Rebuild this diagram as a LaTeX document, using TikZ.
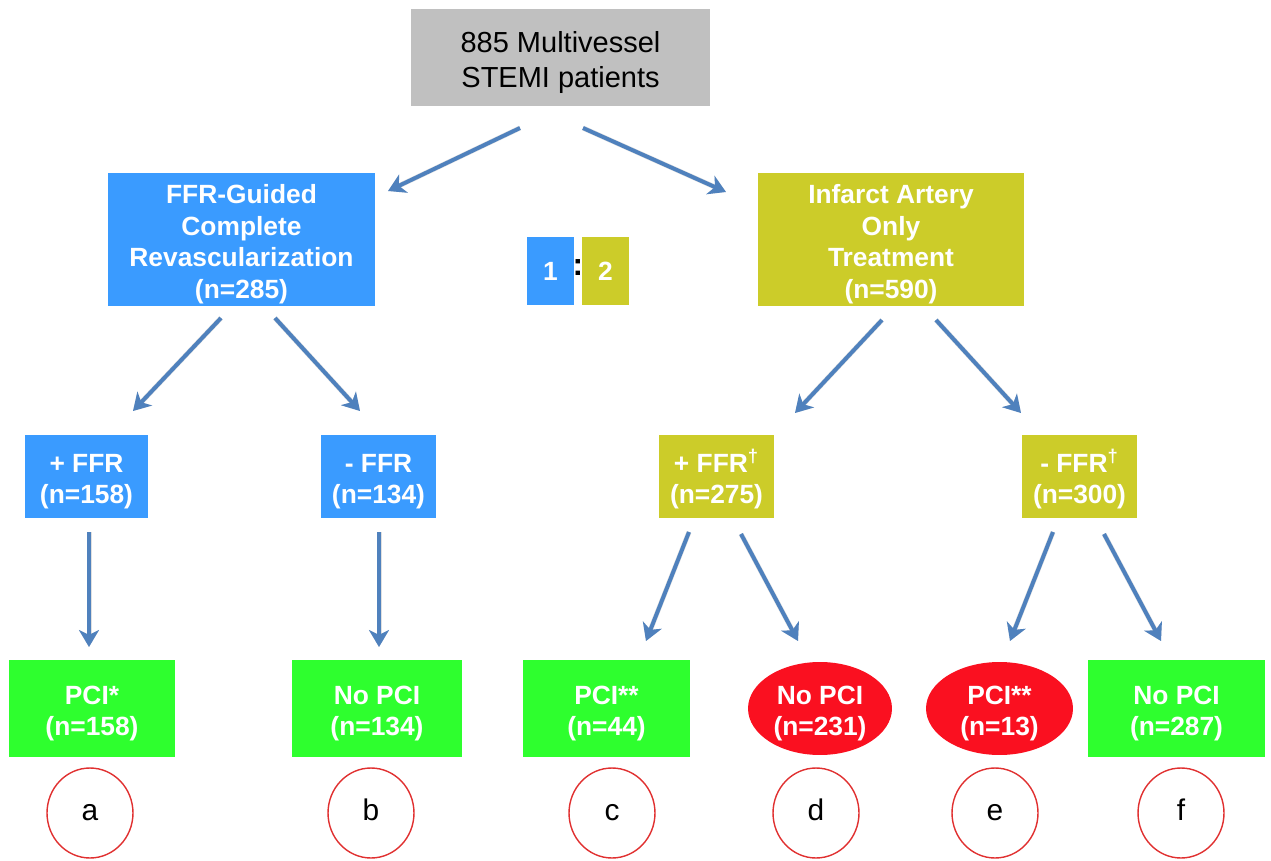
\documentclass[tikz,border=0pt]{standalone}
\usepackage{fontspec}
\setmainfont{Liberation Sans}
\usetikzlibrary{arrows.meta,shapes.geometric}
\definecolor{TopGray}{RGB}{192,192,192}
\definecolor{CrBlue}{RGB}{58,155,255}
\definecolor{IoOlive}{RGB}{204,204,41}
\definecolor{PciGreen}{RGB}{46,255,46}
\definecolor{PciRed}{RGB}{250,16,32}
\definecolor{ArrowBlue}{RGB}{79,129,189}
\definecolor{RingRed}{RGB}{224,48,48}
\newcommand{\boxlift}{\rule{0pt}{16pt}}

\begin{document}
\begin{tikzpicture}[x=0.02cm,y=-0.02cm]
	\tikzstyle{BoxStyle}=[rectangle,inner sep=0pt,align=center,text=white,
		font=\fontsize{15}{18}\selectfont\bfseries]
	\tikzstyle{OvalStyle}=[BoxStyle,ellipse,fill=PciRed,minimum height=1.86cm]
	\tikzstyle{RingStyle}=[ellipse,draw=RingRed,line width=0.8pt,text height=9pt,text depth=0pt,
		minimum width=1.72cm,minimum height=1.8cm,font=\fontsize{17}{20}\selectfont]
	\tikzstyle{EdgeStyle}=[draw=ArrowBlue,line width=0.08cm,
		-{Stealth[length=0.34cm,width=0.4cm,inset=0.1cm]}]
	\tikzstyle{ShadowStyle}=[draw=black,opacity=0.12,line width=0.1cm,
		-{Stealth[length=0.34cm,width=0.4cm,inset=0.1cm]},shift={(1.5,3)}]
	\useasboundingbox (0,0) rectangle (1271,861);
	% first split
	\node[BoxStyle,fill=TopGray,text=black,font=\fontsize{16.5}{20}\selectfont,
		minimum width=5.98cm,minimum height=1.94cm] (top) at (560.5,57.5)
		{\rule{0pt}{18pt}885 Multivessel\\STEMI patients};
	\node[BoxStyle,fill=CrBlue,minimum width=5.34cm,minimum height=2.66cm] (cr) at (241.5,239.5)
		{\boxlift FFR-Guided\\Complete\\Revascularization\\(n=285)};
	\node[BoxStyle,fill=IoOlive,minimum width=5.32cm,minimum height=2.66cm] (io) at (891,239.5)
		{\boxlift Infarct Artery\\Only\\Treatment\\(n=590)};
	\node[BoxStyle,fill=CrBlue,minimum width=0.94cm,minimum height=1.36cm] (one) at (550.5,271) {1};
	\node[BoxStyle,fill=IoOlive,minimum width=0.94cm,minimum height=1.36cm] (two) at (605.5,271) {2};
	\node[font=\fontsize{18}{20}\selectfont\bfseries,inner sep=0pt] (ratio) at (578,268) {:};
	% FFR result
	\node[BoxStyle,fill=CrBlue,minimum width=2.46cm,minimum height=1.66cm] (pf) at (86.5,476.5)
		{\boxlift + FFR\\(n=158)};
	\node[BoxStyle,fill=CrBlue,minimum width=2.3cm,minimum height=1.66cm] (nf) at (378.5,476.5)
		{\boxlift - FFR\\(n=134)};
	\node[BoxStyle,fill=IoOlive,minimum width=2.3cm,minimum height=1.66cm] (pft) at (716.5,476.5)
		{\boxlift + FFR\textsuperscript{\dag}\\(n=275)};
	\node[BoxStyle,fill=IoOlive,minimum width=2.3cm,minimum height=1.66cm] (nft) at (1079.5,476.5)
		{\boxlift - FFR\textsuperscript{\dag}\\(n=300)};
	% treatment
	\node[BoxStyle,fill=PciGreen,minimum width=3.32cm,minimum height=1.94cm] (ga) at (92,708.5)
		{\boxlift PCI*\\(n=158)};
	\node[BoxStyle,fill=PciGreen,minimum width=3.4cm,minimum height=1.94cm] (gb) at (377,708.5)
		{\boxlift No PCI\\(n=134)};
	\node[BoxStyle,fill=PciGreen,minimum width=3.34cm,minimum height=1.94cm] (gc) at (606.5,708.5)
		{\boxlift PCI**\\(n=44)};
	\node[OvalStyle,minimum width=2.88cm] (gd) at (820,708.5) {\boxlift No PCI\\(n=231)};
	\node[OvalStyle,minimum width=2.94cm] (ge) at (999.5,708.5) {\boxlift PCI**\\(n=13)};
	\node[BoxStyle,fill=PciGreen,minimum width=3.54cm,minimum height=1.94cm] (gf) at (1176.5,708.5)
		{\boxlift No PCI\\(n=287)};
	% letters
	\node[RingStyle] (la) at (90,813) {a};
	\node[RingStyle] (lb) at (371,813) {b};
	\node[RingStyle] (lc) at (612,813) {c};
	\node[RingStyle] (ld) at (816,813) {d};
	\node[RingStyle] (le) at (995,813) {e};
	\node[RingStyle] (lf) at (1181,813) {f};
	% arrow ends
	\coordinate (top-l) at (520,128);   \coordinate (cr-in) at (388,191);
	\coordinate (top-r) at (583,128);   \coordinate (io-in) at (726,192);
	\coordinate (cr-l) at (221,318);    \coordinate (pf-in) at (133,411);
	\coordinate (cr-r) at (275,318);    \coordinate (nf-in) at (360,411);
	\coordinate (io-l) at (882,320);    \coordinate (pft-in) at (795,413);
	\coordinate (io-r) at (936,320);    \coordinate (nft-in) at (1021,413);
	\coordinate (pf-out) at (89,532);   \coordinate (ga-in) at (89,647);
	\coordinate (nf-out) at (379,532);  \coordinate (gb-in) at (379,647);
	\coordinate (pft-l) at (689,532);   \coordinate (gc-in) at (646,641);
	\coordinate (pft-r) at (741,534);   \coordinate (gd-in) at (798,641);
	\coordinate (nft-l) at (1053,532);  \coordinate (ge-in) at (1010,641);
	\coordinate (nft-r) at (1104,534);  \coordinate (gf-in) at (1161,641);
	\foreach \s/\e in {top-l/cr-in,top-r/io-in,cr-l/pf-in,cr-r/nf-in,io-l/pft-in,io-r/nft-in,
		pf-out/ga-in,nf-out/gb-in,pft-l/gc-in,pft-r/gd-in,nft-l/ge-in,nft-r/gf-in}
		{
		\draw[ShadowStyle] (\s) -- (\e);
		\draw[EdgeStyle] (\s) -- (\e);
		}
\end{tikzpicture}
\end{document}
